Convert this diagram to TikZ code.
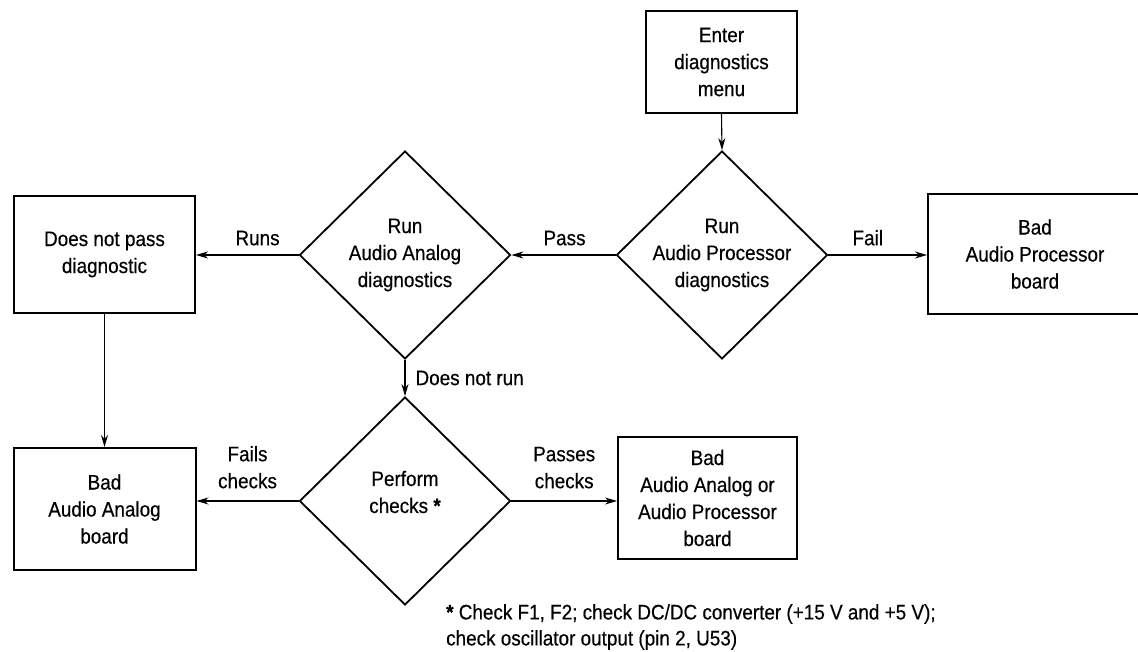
\documentclass[tikz,border=0pt]{standalone}
\usepackage{fontspec}
\setmainfont{Liberation Sans}[FakeStretch=0.9,FakeBold=0.4]
\usetikzlibrary{shapes.geometric,arrows.meta}
\begin{document}
\begin{tikzpicture}[x=1pt,y=-1pt,
  font=\fontsize{21}{27}\selectfont,
  box/.style={draw, line width=2pt, align=center, inner sep=0pt},
  dia/.style={draw, diamond, aspect=1, line width=1.8pt, inner sep=-8pt, align=center,
              minimum width=211pt, minimum height=208pt},
  arr/.style={-{Stealth[length=12pt,width=7pt]}, line width=1.1pt},
  lbl/.style={inner sep=0pt, align=center}]
\useasboundingbox (0,0) rectangle (1138,652);
\clip (0,0) rectangle (1138,652);
% nodes
\node[box, minimum width=151pt, minimum height=102pt] (enter) at (721.5,62) {Enter\\diagnostics\\menu};
\node[dia] (ap) at (722,255) {Run\\Audio Processor\\diagnostics};
\node[box, minimum width=214pt, minimum height=120pt] (badap) at (1035,254) {Bad\\Audio Processor\\board};
\node[dia] (aa) at (405,255) {Run\\Audio Analog\\diagnostics};
\node[box, minimum width=181pt, minimum height=117pt] (dnp) at (104.5,254.5) {Does not pass\\diagnostic};
\node[dia, label={[lbl, yshift=9pt]center:Perform\\checks \textbf{*}}] (pc) at (405,501) {};
\node[box, minimum width=182pt, minimum height=122pt] (badaa) at (104.5,509) {Bad\\Audio Analog\\board};
\node[box, minimum width=179pt, minimum height=122pt] (badaap) at (707.5,498) {Bad\\Audio Analog or\\Audio Processor\\board};
% connectors
\draw[arr] (enter.south) -- (ap.north);
\draw[arr] (ap.east) -- node[lbl, pos=0.4, above=9pt] (lfail) {Fail} (ap.east -| badap.west);
\draw[arr] (ap.west) -- node[lbl, pos=0.49, above=9pt] (lpass) {Pass} (aa.east);
\draw[arr] (aa.west) -- node[lbl, pos=0.4, above=9pt] (lruns) {Runs} (aa.west -| dnp.east);
\draw[arr] (aa.south) -- node[lbl, right=10pt] (ldnr) {Does not run} (pc.north);
\draw[arr] (dnp.south) -- (badaa.north);
\draw[arr] (pc.west) -- node[lbl, pos=0.5, above=12pt] (lfails) {Fails\\checks} (pc.west -| badaa.east);
\draw[arr] (pc.east) -- node[lbl, pos=0.5, above=12pt] (lpasses) {Passes\\checks} (pc.east -| badaap.west);
% footnote
\node[lbl, anchor=north west, align=left, font=\fontsize{21}{26}\selectfont] (foot) at (446,604) {\textbf{*} Check F1, F2; check DC/DC converter (+15 V and +5 V);\\check oscillator output (pin 2, U53)};
\end{tikzpicture}
\end{document}
